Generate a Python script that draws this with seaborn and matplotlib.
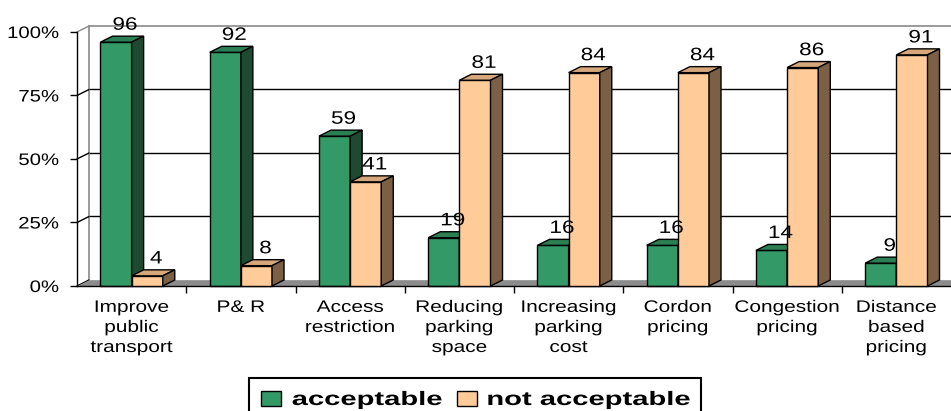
import numpy as np
import pandas as pd
import matplotlib
matplotlib.use("Agg")
import matplotlib.pyplot as plt
import seaborn as sns
from matplotlib.patches import Polygon, Rectangle
from matplotlib.patheffects import AbstractPathEffect
from matplotlib.transforms import Affine2D
from matplotlib.ticker import FixedLocator, PercentFormatter

# ---- data -------------------------------------------------------------
measures = [
    "Improve\npublic\ntransport",
    "P& R",
    "Access\nrestriction",
    "Reducing\nparking\nspace",
    "Increasing\nparking\ncost",
    "Cordon\npricing",
    "Congestion\npricing",
    "Distance\nbased\npricing",
]
acceptable = [96, 92, 59, 19, 16, 16, 14, 9]
not_acceptable = [4, 8, 41, 81, 84, 84, 86, 91]
responses = ["acceptable", "not acceptable"]
y_ticks = [0, 25, 50, 75, 100]

df = pd.DataFrame({
    "measure": measures * 2,
    "share": acceptable + not_acceptable,
    "response": [responses[0]] * len(measures) + [responses[1]] * len(measures),
})

# face colours of the pseudo-3D columns: front, top, side
faces = {
    "acceptable": ("#339966", "#2b7f53", "#1d4a31"),
    "not acceptable": ("#ffcc99", "#d6a77b", "#7c6045"),
}

sns.set_theme(style="white")
plt.rcParams["font.family"] = ["Liberation Sans", "DejaVu Sans"]


class HStretch(AbstractPathEffect):
    """Widen glyph outlines horizontally about a chosen anchor."""

    def __init__(self, sx, anchor="center"):
        super().__init__()
        self.sx = sx
        self.anchor = anchor

    def draw_path(self, renderer, gc, tpath, affine, rgbFace=None):
        ext = tpath.get_extents()
        if self.anchor == "center":
            cx = 0.5 * (ext.x0 + ext.x1)
        elif self.anchor == "right":
            cx = ext.x1
        else:
            cx = ext.x0
        t = Affine2D().translate(-cx, 0).scale(self.sx, 1).translate(cx, 0)
        renderer.draw_path(gc, tpath, t + affine, rgbFace)


W, H = 951, 411
fig = plt.figure(figsize=(W / 100, H / 100), dpi=100)
fig.patch.set_facecolor("white")
ax = fig.add_axes([77 / W, 125 / H, 874 / W, 254 / H])
ax.set_facecolor("none")

sns.barplot(
    data=df, x="measure", y="share", hue="response", hue_order=responses,
    palette=[faces[r][0] for r in responses], width=0.57, saturation=1,
    edgecolor="black", linewidth=1, errorbar=None, legend=False, ax=ax,
)
ax.set_xlim(-0.5, 7.5)
ax.set_ylim(0, 100)

# depth offsets of the 3-D look, in data units
px_x = 874 / 8
px_y = 254 / 100
DX = 12 / px_x
DY = 6 / px_y

# back wall, side wall edges and floor
x_end = 7.5 + DX
for v in y_ticks[1:4]:
    ax.plot([-0.5 + DX, x_end], [v + DY, v + DY], color="black", lw=1,
            zorder=0.5, clip_on=False)
ax.plot([-0.5 + DX, x_end], [100 + DY, 100 + DY], color="#8a8a8a", lw=1.2,
        zorder=0.5, clip_on=False)
ax.plot([-0.5 + DX, -0.5 + DX], [DY, 100 + DY], color="#8a8a8a", lw=1.2,
        zorder=0.5, clip_on=False)
for v in y_ticks:
    ax.plot([-0.5, -0.5 + DX], [v, v + DY],
            color="#8a8a8a" if v == 100 else "black", lw=1,
            zorder=0.5, clip_on=False)
floor = Polygon([(-0.5, 0), (x_end, 0), (x_end, DY), (-0.5 + DX, DY)],
                closed=True, facecolor="#8c8c8c", edgecolor="#8c8c8c",
                lw=0.5, zorder=0.6, clip_on=False)
ax.add_patch(floor)

# top and side faces for every column
for level, (resp, container) in enumerate(zip(responses, ax.containers)):
    front, top, side = faces[resp]
    z = 2 + level
    for bar in container:
        bar.set_zorder(z)
        bar.set_clip_on(False)
        x0, w, h = bar.get_x(), bar.get_width(), bar.get_height()
        ax.add_patch(Polygon(
            [(x0, h), (x0 + w, h), (x0 + w + DX, h + DY), (x0 + DX, h + DY)],
            closed=True, facecolor=top, edgecolor="black", lw=1,
            zorder=z, clip_on=False))
        ax.add_patch(Polygon(
            [(x0 + w, 0), (x0 + w + DX, DY), (x0 + w + DX, h + DY), (x0 + w, h)],
            closed=True, facecolor=side, edgecolor="black", lw=1,
            zorder=z, clip_on=False))

# value labels above the columns
value_texts = []
for container, values in zip(ax.containers, [acceptable, not_acceptable]):
    for bar, v in zip(container, values):
        cx = bar.get_x() + bar.get_width() / 2 + 9 / px_x
        t = ax.text(cx, v + DY + 4.3, f"{v}", ha="center", va="center",
                    fontsize=13, color="black", zorder=5)
        value_texts.append(t)

# axes, ticks and tick labels
for s in ("top", "right"):
    ax.spines[s].set_visible(False)
for s in ("left", "bottom"):
    ax.spines[s].set_color("black")
    ax.spines[s].set_linewidth(1)
ax.set_yticks(y_ticks)
ax.yaxis.set_major_formatter(PercentFormatter(decimals=0))
ax.tick_params(axis="y", left=True, direction="out", length=5, width=1,
               color="black", labelsize=12, pad=8, labelcolor="black")
ax.tick_params(axis="x", which="major", bottom=True, length=0, pad=10,
               labelsize=12, labelcolor="black")
ax.xaxis.set_minor_locator(FixedLocator(np.arange(0.5, 7.0, 1.0)))
ax.tick_params(axis="x", which="minor", bottom=True, direction="out",
               length=5, width=1, color="black")
for lbl in ax.get_xticklabels():
    lbl.set_linespacing(1.42)
ax.set_xlabel("")
ax.set_ylabel("")

# legend box along the lower edge
lx0, lx1, ltop = 249, 701, 378
fig.patches.append(Rectangle((lx0 / W, -0.05), (lx1 - lx0) / W,
                             (H - ltop) / H + 0.05, transform=fig.transFigure,
                             facecolor="white", edgecolor="black", lw=1.5))
legend_items = [(261, 292), (457, 487)]
for resp, (sq_x, tx) in zip(responses, legend_items):
    fig.patches.append(Rectangle((sq_x / W, (H - 406) / H), 20 / W, 15 / H,
                                 transform=fig.transFigure,
                                 facecolor=faces[resp][0], edgecolor="black",
                                 lw=1))
    fig.text(tx / W, (H - 405) / H, resp, ha="left", va="baseline",
             fontsize=14, fontweight="bold", color="black",
             path_effects=[HStretch(1.5, "left")])

fig.canvas.draw()
for lbl in ax.get_xticklabels():
    lbl.set_linespacing(1.42)
    lbl.set_path_effects([HStretch(1.25, "center")])
for lbl in ax.get_yticklabels():
    lbl.set_path_effects([HStretch(1.22, "right")])
for t in value_texts:
    t.set_path_effects([HStretch(1.25, "center")])

fig.savefig("out.png", dpi=100, facecolor="white")
